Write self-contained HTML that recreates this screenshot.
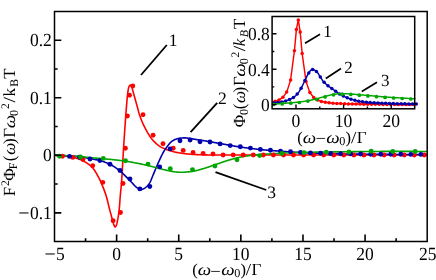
<!DOCTYPE html>
<html><head><meta charset="utf-8"><title>Spectra</title>
<style>html,body{margin:0;padding:0;background:#fff;}svg{display:block;}body{font-family:"Liberation Serif",serif;}svg{will-change:transform;}text{text-rendering:geometricPrecision;}</style></head>
<body>
<svg width="436" height="280" viewBox="0 0 436 280" font-family="'Liberation Serif', serif" fill="#000">
<rect x="0" y="0" width="436" height="280" fill="#fff"/>
<path d="M55.00,155.30 L55.50,155.33 L56.00,155.37 L56.50,155.40 L57.00,155.44 L57.50,155.47 L58.00,155.51 L58.50,155.55 L59.00,155.59 L59.50,155.63 L60.00,155.68 L60.50,155.72 L61.00,155.76 L61.50,155.81 L62.00,155.85 L62.50,155.90 L63.00,155.95 L63.50,156.00 L64.00,156.04 L64.50,156.10 L65.00,156.15 L65.50,156.20 L66.00,156.26 L66.50,156.31 L67.00,156.37 L67.50,156.44 L68.00,156.50 L68.50,156.57 L69.00,156.63 L69.50,156.70 L70.00,156.78 L70.50,156.85 L71.00,156.93 L71.50,157.02 L72.00,157.11 L72.50,157.20 L73.00,157.30 L73.50,157.41 L74.00,157.52 L74.50,157.65 L75.00,157.78 L75.50,157.92 L76.00,158.07 L76.50,158.22 L77.00,158.38 L77.50,158.54 L78.00,158.70 L78.50,158.87 L79.00,159.04 L79.50,159.23 L80.00,159.42 L80.50,159.62 L81.00,159.82 L81.50,160.04 L82.00,160.27 L82.50,160.50 L83.00,160.75 L83.50,161.01 L84.00,161.29 L84.50,161.58 L85.00,161.89 L85.50,162.20 L86.00,162.52 L86.50,162.84 L87.00,163.17 L87.50,163.50 L88.00,163.83 L88.50,164.17 L89.00,164.52 L89.50,164.90 L90.00,165.30 L90.50,165.74 L91.00,166.21 L91.50,166.71 L92.00,167.24 L92.50,167.78 L93.00,168.34 L93.50,168.92 L94.00,169.56 L94.50,170.27 L95.00,171.02 L95.50,171.81 L96.00,172.64 L96.50,173.50 L97.00,174.39 L97.50,175.30 L98.00,176.23 L98.50,177.18 L99.00,178.15 L99.50,179.16 L100.00,180.20 L100.50,181.28 L101.00,182.39 L101.50,183.53 L102.00,184.71 L102.50,185.90 L103.00,187.11 L103.50,188.36 L104.00,189.65 L104.50,190.99 L105.00,192.38 L105.50,193.84 L106.00,195.37 L106.50,197.00 L107.00,198.82 L107.50,200.78 L108.00,202.83 L108.50,204.91 L109.00,206.98 L109.50,208.98 L110.00,210.88 L110.50,212.76 L111.00,214.61 L111.50,216.45 L112.00,218.26 L112.50,220.04 L113.00,221.87 L113.50,223.76 L114.00,225.20 L114.50,226.23 L115.00,226.92 L115.50,226.84 L116.00,226.06 L116.50,224.95 L117.00,223.13 L117.50,220.75 L118.00,218.16 L118.50,215.13 L119.00,211.45 L119.50,206.37 L120.00,199.25 L120.50,193.30 L121.00,188.43 L121.50,182.70 L122.00,175.10 L122.50,166.67 L123.00,158.10 L123.50,149.32 L124.00,141.29 L124.50,133.80 L125.00,126.56 L125.50,119.41 L126.00,112.57 L126.50,106.18 L127.00,100.03 L127.50,95.00 L128.00,91.08 L128.50,88.18 L129.00,86.62 L129.50,85.70 L130.00,85.18 L130.50,85.02 L131.00,85.59 L131.50,86.49 L132.00,87.73 L132.50,89.37 L133.00,91.24 L133.50,93.17 L134.00,95.00 L134.50,96.74 L135.00,98.52 L135.50,100.31 L136.00,102.12 L136.50,103.92 L137.00,105.73 L137.50,107.60 L138.00,109.50 L138.50,111.37 L139.00,113.16 L139.50,114.80 L140.00,116.27 L140.50,117.67 L141.00,118.99 L141.50,120.26 L142.00,121.46 L142.50,122.63 L143.00,123.75 L143.50,124.84 L144.00,125.88 L144.50,126.89 L145.00,127.87 L145.50,128.82 L146.00,129.74 L146.50,130.64 L147.00,131.53 L147.50,132.41 L148.00,133.28 L148.50,134.13 L149.00,134.95 L149.50,135.75 L150.00,136.51 L150.50,137.22 L151.00,137.90 L151.50,138.55 L152.00,139.16 L152.50,139.75 L153.00,140.32 L153.50,140.87 L154.00,141.39 L154.50,141.91 L155.00,142.40 L155.50,142.89 L156.00,143.35 L156.50,143.80 L157.00,144.23 L157.50,144.64 L158.00,145.03 L158.50,145.42 L159.00,145.79 L159.50,146.15 L160.00,146.48 L160.50,146.80 L161.00,147.09 L161.50,147.36 L162.00,147.61 L162.50,147.85 L163.00,148.09 L163.50,148.32 L164.00,148.53 L164.50,148.75 L165.00,148.95 L165.50,149.15 L166.00,149.34 L166.50,149.52 L167.00,149.70 L167.50,149.88 L168.00,150.05 L168.50,150.22 L169.00,150.38 L169.50,150.54 L170.00,150.70 L170.50,150.86 L171.00,151.01 L171.50,151.16 L172.00,151.31 L172.50,151.45 L173.00,151.59 L173.50,151.72 L174.00,151.84 L174.50,151.96 L175.00,152.07 L175.50,152.18 L176.00,152.28 L176.50,152.38 L177.00,152.47 L177.50,152.57 L178.00,152.66 L178.50,152.75 L179.00,152.83 L179.50,152.92 L180.00,153.00 L180.50,153.08 L181.00,153.15 L181.50,153.23 L182.00,153.30 L182.50,153.37 L183.00,153.43 L183.50,153.50 L184.00,153.56 L184.50,153.62 L185.00,153.67 L185.50,153.73 L186.00,153.78 L186.50,153.83 L187.00,153.89 L187.50,153.94 L188.00,153.99 L188.50,154.04 L189.00,154.09 L189.50,154.13 L190.00,154.18 L190.50,154.22 L191.00,154.27 L191.50,154.31 L192.00,154.35 L192.50,154.39 L193.00,154.42 L193.50,154.46 L194.00,154.49 L194.50,154.52 L195.00,154.54 L195.50,154.57 L196.00,154.59 L196.50,154.61 L197.00,154.63 L197.50,154.64 L198.00,154.66 L198.50,154.68 L199.00,154.70 L199.50,154.71 L200.00,154.73 L200.50,154.75 L201.00,154.76 L201.50,154.78 L202.00,154.79 L202.50,154.81 L203.00,154.82 L203.50,154.84 L204.00,154.85 L204.50,154.87 L205.00,154.88 L205.50,154.89 L206.00,154.90 L206.50,154.91 L207.00,154.92 L207.50,154.93 L208.00,154.94 L208.50,154.95 L209.00,154.96 L209.50,154.97 L210.00,154.97 L210.50,154.98 L211.00,154.99 L211.50,154.99 L212.00,154.99 L212.50,155.00 L213.00,155.00 L213.50,155.00 L214.00,155.00 L214.50,155.00 L215.00,155.00 L215.50,155.00 L216.00,155.00 L216.50,155.00 L217.00,155.00 L217.50,155.00 L218.00,155.00 L218.50,155.00 L219.00,155.00 L219.50,155.00 L220.00,155.00 L220.50,155.00 L221.00,155.00 L221.50,155.00 L222.00,155.00 L222.50,155.00 L223.00,155.00 L223.50,155.00 L224.00,155.00 L224.50,155.00 L225.00,155.00 L225.50,155.00 L226.00,155.00 L226.50,155.00 L227.00,155.00 L227.50,155.00 L228.00,155.00 L228.50,155.00 L229.00,155.00 L229.50,155.00 L230.00,155.00 L230.50,155.00 L231.00,155.00 L231.50,155.00 L232.00,155.00 L232.50,155.00 L233.00,155.00 L233.50,155.00 L234.00,155.00 L234.50,155.00 L235.00,155.00 L235.50,155.00 L236.00,155.00 L236.50,155.00 L237.00,155.00 L237.50,155.00 L238.00,155.00 L238.50,155.00 L239.00,155.00 L239.50,155.00 L240.00,155.00 L240.50,155.00 L241.00,155.00 L241.50,155.00 L242.00,155.00 L242.50,155.00 L243.00,155.00 L243.50,155.00 L244.00,155.00 L244.50,155.00 L245.00,155.00 L245.50,155.00 L246.00,155.00 L246.50,155.00 L247.00,155.00 L247.50,155.00 L248.00,155.00 L248.50,155.00 L249.00,155.00 L249.50,155.00 L250.00,155.00 L250.50,155.00 L251.00,155.00 L251.50,155.00 L252.00,155.00 L252.50,155.00 L253.00,155.00 L253.50,155.00 L254.00,155.00 L254.50,155.00 L255.00,155.00 L255.50,155.00 L256.00,155.00 L256.50,155.00 L257.00,155.00 L257.50,155.00 L258.00,155.00 L258.50,155.00 L259.00,155.00 L259.50,155.00 L260.00,155.00 L260.50,155.00 L261.00,155.00 L261.50,155.00 L262.00,155.00 L262.50,155.00 L263.00,155.00 L263.50,155.00 L264.00,155.00 L264.50,155.00 L265.00,155.00 L265.50,155.00 L266.00,155.00 L266.50,155.00 L267.00,155.00 L267.50,155.00 L268.00,155.00 L268.50,155.00 L269.00,155.00 L269.50,155.00 L270.00,155.00 L270.50,155.00 L271.00,155.00 L271.50,155.00 L272.00,155.00 L272.50,155.00 L273.00,155.00 L273.50,155.00 L274.00,155.00 L274.50,155.00 L275.00,155.00 L275.50,155.00 L276.00,155.00 L276.50,155.00 L277.00,155.00 L277.50,155.00 L278.00,155.00 L278.50,155.00 L279.00,155.00 L279.50,155.00 L280.00,155.00 L280.50,155.00 L281.00,155.00 L281.50,155.00 L282.00,155.00 L282.50,155.00 L283.00,155.00 L283.50,155.00 L284.00,155.00 L284.50,155.00 L285.00,155.00 L285.50,155.00 L286.00,155.00 L286.50,155.00 L287.00,155.00 L287.50,155.00 L288.00,155.00 L288.50,155.00 L289.00,155.00 L289.50,155.00 L290.00,155.00 L290.50,155.00 L291.00,155.00 L291.50,155.00 L292.00,155.00 L292.50,155.00 L293.00,155.00 L293.50,155.00 L294.00,155.00 L294.50,155.00 L295.00,155.00 L295.50,155.00 L296.00,155.00 L296.50,155.00 L297.00,155.00 L297.50,155.00 L298.00,155.00 L298.50,155.00 L299.00,155.00 L299.50,155.00 L300.00,155.00 L300.50,155.00 L301.00,155.00 L301.50,155.00 L302.00,155.00 L302.50,155.00 L303.00,155.00 L303.50,155.00 L304.00,155.00 L304.50,155.00 L305.00,155.00 L305.50,155.00 L306.00,155.00 L306.50,155.00 L307.00,155.00 L307.50,155.00 L308.00,155.00 L308.50,155.00 L309.00,155.00 L309.50,155.00 L310.00,155.00 L310.50,155.00 L311.00,155.00 L311.50,155.00 L312.00,155.00 L312.50,155.00 L313.00,155.00 L313.50,155.00 L314.00,155.00 L314.50,155.00 L315.00,155.00 L315.50,155.00 L316.00,155.00 L316.50,155.00 L317.00,155.00 L317.50,155.00 L318.00,155.00 L318.50,155.00 L319.00,155.00 L319.50,155.00 L320.00,155.00 L320.50,155.00 L321.00,155.00 L321.50,155.00 L322.00,155.00 L322.50,155.00 L323.00,155.00 L323.50,155.00 L324.00,155.00 L324.50,155.00 L325.00,155.00 L325.50,155.00 L326.00,155.00 L326.50,155.00 L327.00,155.00 L327.50,155.00 L328.00,155.00 L328.50,155.00 L329.00,155.00 L329.50,155.00 L330.00,155.00 L330.50,155.00 L331.00,155.00 L331.50,155.00 L332.00,155.00 L332.50,155.00 L333.00,155.00 L333.50,155.00 L334.00,155.00 L334.50,155.00 L335.00,155.00 L335.50,155.00 L336.00,155.00 L336.50,155.00 L337.00,155.00 L337.50,155.00 L338.00,155.00 L338.50,155.00 L339.00,155.00 L339.50,155.00 L340.00,155.00 L340.50,155.00 L341.00,155.00 L341.50,155.00 L342.00,155.00 L342.50,155.00 L343.00,155.00 L343.50,155.00 L344.00,155.00 L344.50,155.00 L345.00,155.00 L345.50,155.00 L346.00,155.00 L346.50,155.00 L347.00,155.00 L347.50,155.00 L348.00,155.00 L348.50,155.00 L349.00,155.00 L349.50,155.00 L350.00,155.00 L350.50,155.00 L351.00,155.00 L351.50,155.00 L352.00,155.00 L352.50,155.00 L353.00,155.00 L353.50,155.00 L354.00,155.00 L354.50,155.00 L355.00,155.00 L355.50,155.00 L356.00,155.00 L356.50,155.00 L357.00,155.00 L357.50,155.00 L358.00,155.00 L358.50,155.00 L359.00,155.00 L359.50,155.00 L360.00,155.00 L360.50,155.00 L361.00,155.00 L361.50,155.00 L362.00,155.00 L362.50,155.00 L363.00,155.00 L363.50,155.00 L364.00,155.00 L364.50,155.00 L365.00,155.00 L365.50,155.00 L366.00,155.00 L366.50,155.00 L367.00,155.00 L367.50,155.00 L368.00,155.00 L368.50,155.00 L369.00,155.00 L369.50,155.00 L370.00,155.00 L370.50,155.00 L371.00,155.00 L371.50,155.00 L372.00,155.00 L372.50,155.00 L373.00,155.00 L373.50,155.00 L374.00,155.00 L374.50,155.00 L375.00,155.00 L375.50,155.00 L376.00,155.00 L376.50,155.00 L377.00,155.00 L377.50,155.00 L378.00,155.00 L378.50,155.00 L379.00,155.00 L379.50,155.00 L380.00,155.00 L380.50,155.00 L381.00,155.00 L381.50,155.00 L382.00,155.00 L382.50,155.00 L383.00,155.00 L383.50,155.00 L384.00,155.00 L384.50,155.00 L385.00,155.00 L385.50,155.00 L386.00,155.00 L386.50,155.00 L387.00,155.00 L387.50,155.00 L388.00,155.00 L388.50,155.00 L389.00,155.00 L389.50,155.00 L390.00,155.00 L390.50,155.00 L391.00,155.00 L391.50,155.00 L392.00,155.00 L392.50,155.00 L393.00,155.00 L393.50,155.00 L394.00,155.00 L394.50,155.00 L395.00,155.00 L395.50,155.00 L396.00,155.00 L396.50,155.00 L397.00,155.00 L397.50,155.00 L398.00,155.00 L398.50,155.00 L399.00,155.00 L399.50,155.00 L400.00,155.00 L400.50,155.00 L401.00,155.00 L401.50,155.00 L402.00,155.00 L402.50,155.00 L403.00,155.00 L403.50,155.00 L404.00,155.00 L404.50,155.00 L405.00,155.00 L405.50,155.00 L406.00,155.00 L406.50,155.00 L407.00,155.00 L407.50,155.00 L408.00,155.00 L408.50,155.00 L409.00,155.00 L409.50,155.00 L410.00,155.00 L410.50,155.00 L411.00,155.00 L411.50,155.00 L412.00,155.00 L412.50,155.00 L413.00,155.00 L413.50,155.00 L414.00,155.00 L414.50,155.00 L415.00,155.00 L415.50,155.00 L416.00,155.00 L416.50,155.00 L417.00,155.00 L417.50,155.00 L418.00,155.00 L418.50,155.00 L419.00,155.00 L419.50,155.00 L420.00,155.00 L420.50,155.00 L421.00,155.00 L421.50,155.00 L422.00,155.00 L422.50,155.00 L423.00,155.00 L423.50,155.00 L424.00,155.00 L424.50,155.00 L425.00,155.00 L425.50,155.00 L426.00,155.00 L426.50,155.00 L427.00,155.00 L427.20,155.00" fill="none" stroke="#ff0000" stroke-width="1.6" stroke-linejoin="round"/>
<path d="M55.00,155.30 L55.50,155.31 L56.00,155.32 L56.50,155.33 L57.00,155.34 L57.50,155.35 L58.00,155.37 L58.50,155.38 L59.00,155.40 L59.50,155.42 L60.00,155.43 L60.50,155.45 L61.00,155.47 L61.50,155.49 L62.00,155.51 L62.50,155.54 L63.00,155.56 L63.50,155.58 L64.00,155.61 L64.50,155.63 L65.00,155.66 L65.50,155.68 L66.00,155.71 L66.50,155.73 L67.00,155.76 L67.50,155.79 L68.00,155.82 L68.50,155.84 L69.00,155.87 L69.50,155.90 L70.00,155.93 L70.50,155.96 L71.00,155.99 L71.50,156.02 L72.00,156.06 L72.50,156.09 L73.00,156.13 L73.50,156.17 L74.00,156.21 L74.50,156.25 L75.00,156.29 L75.50,156.34 L76.00,156.38 L76.50,156.43 L77.00,156.48 L77.50,156.53 L78.00,156.58 L78.50,156.63 L79.00,156.69 L79.50,156.74 L80.00,156.80 L80.50,156.86 L81.00,156.93 L81.50,157.00 L82.00,157.08 L82.50,157.16 L83.00,157.24 L83.50,157.33 L84.00,157.42 L84.50,157.51 L85.00,157.61 L85.50,157.71 L86.00,157.81 L86.50,157.91 L87.00,158.01 L87.50,158.11 L88.00,158.21 L88.50,158.31 L89.00,158.41 L89.50,158.50 L90.00,158.60 L90.50,158.69 L91.00,158.79 L91.50,158.88 L92.00,158.97 L92.50,159.06 L93.00,159.15 L93.50,159.24 L94.00,159.33 L94.50,159.42 L95.00,159.51 L95.50,159.60 L96.00,159.70 L96.50,159.80 L97.00,159.90 L97.50,160.01 L98.00,160.12 L98.50,160.23 L99.00,160.35 L99.50,160.47 L100.00,160.60 L100.50,160.73 L101.00,160.88 L101.50,161.02 L102.00,161.18 L102.50,161.34 L103.00,161.50 L103.50,161.68 L104.00,161.85 L104.50,162.04 L105.00,162.23 L105.50,162.42 L106.00,162.62 L106.50,162.83 L107.00,163.04 L107.50,163.26 L108.00,163.48 L108.50,163.70 L109.00,163.93 L109.50,164.16 L110.00,164.40 L110.50,164.64 L111.00,164.90 L111.50,165.17 L112.00,165.44 L112.50,165.73 L113.00,166.02 L113.50,166.32 L114.00,166.63 L114.50,166.95 L115.00,167.28 L115.50,167.61 L116.00,167.95 L116.50,168.30 L117.00,168.66 L117.50,169.02 L118.00,169.39 L118.50,169.76 L119.00,170.14 L119.50,170.52 L120.00,170.92 L120.50,171.33 L121.00,171.77 L121.50,172.22 L122.00,172.68 L122.50,173.16 L123.00,173.64 L123.50,174.13 L124.00,174.62 L124.50,175.11 L125.00,175.60 L125.50,176.09 L126.00,176.59 L126.50,177.10 L127.00,177.61 L127.50,178.12 L128.00,178.64 L128.50,179.17 L129.00,179.69 L129.50,180.22 L130.00,180.74 L130.50,181.26 L131.00,181.78 L131.50,182.29 L132.00,182.80 L132.50,183.32 L133.00,183.85 L133.50,184.39 L134.00,184.93 L134.50,185.46 L135.00,185.97 L135.50,186.46 L136.00,186.92 L136.50,187.34 L137.00,187.73 L137.50,188.10 L138.00,188.45 L138.50,188.75 L139.00,189.00 L139.50,189.23 L140.00,189.44 L140.50,189.57 L141.00,189.59 L141.50,189.51 L142.00,189.37 L142.50,189.19 L143.00,189.00 L143.50,188.79 L144.00,188.54 L144.50,188.25 L145.00,187.93 L145.50,187.57 L146.00,187.19 L146.50,186.75 L147.00,186.28 L147.50,185.75 L148.00,185.18 L148.50,184.56 L149.00,183.88 L149.50,183.16 L150.00,182.37 L150.50,181.38 L151.00,180.23 L151.50,178.99 L152.00,177.72 L152.50,176.50 L153.00,175.31 L153.50,174.09 L154.00,172.86 L154.50,171.63 L155.00,170.41 L155.50,169.20 L156.00,168.02 L156.50,166.85 L157.00,165.70 L157.50,164.56 L158.00,163.43 L158.50,162.31 L159.00,161.22 L159.50,160.13 L160.00,159.03 L160.50,157.93 L161.00,156.84 L161.50,155.78 L162.00,154.75 L162.50,153.77 L163.00,152.84 L163.50,151.97 L164.00,151.15 L164.50,150.36 L165.00,149.60 L165.50,148.87 L166.00,148.17 L166.50,147.48 L167.00,146.82 L167.50,146.17 L168.00,145.52 L168.50,144.87 L169.00,144.23 L169.50,143.62 L170.00,143.03 L170.50,142.50 L171.00,142.01 L171.50,141.60 L172.00,141.23 L172.50,140.89 L173.00,140.57 L173.50,140.27 L174.00,139.99 L174.50,139.74 L175.00,139.53 L175.50,139.33 L176.00,139.16 L176.50,139.00 L177.00,138.84 L177.50,138.68 L178.00,138.54 L178.50,138.41 L179.00,138.29 L179.50,138.19 L180.00,138.11 L180.50,138.04 L181.00,138.00 L181.50,137.98 L182.00,137.96 L182.50,137.95 L183.00,137.93 L183.50,137.92 L184.00,137.91 L184.50,137.90 L185.00,137.90 L185.50,137.91 L186.00,137.95 L186.50,138.01 L187.00,138.07 L187.50,138.14 L188.00,138.20 L188.50,138.26 L189.00,138.33 L189.50,138.40 L190.00,138.47 L190.50,138.54 L191.00,138.62 L191.50,138.70 L192.00,138.78 L192.50,138.87 L193.00,138.95 L193.50,139.04 L194.00,139.12 L194.50,139.21 L195.00,139.29 L195.50,139.37 L196.00,139.45 L196.50,139.53 L197.00,139.61 L197.50,139.69 L198.00,139.77 L198.50,139.84 L199.00,139.92 L199.50,140.00 L200.00,140.08 L200.50,140.16 L201.00,140.23 L201.50,140.31 L202.00,140.39 L202.50,140.47 L203.00,140.55 L203.50,140.63 L204.00,140.72 L204.50,140.80 L205.00,140.88 L205.50,140.97 L206.00,141.06 L206.50,141.14 L207.00,141.23 L207.50,141.32 L208.00,141.41 L208.50,141.50 L209.00,141.59 L209.50,141.68 L210.00,141.77 L210.50,141.86 L211.00,141.95 L211.50,142.04 L212.00,142.13 L212.50,142.22 L213.00,142.31 L213.50,142.40 L214.00,142.48 L214.50,142.57 L215.00,142.65 L215.50,142.74 L216.00,142.82 L216.50,142.91 L217.00,142.99 L217.50,143.07 L218.00,143.16 L218.50,143.24 L219.00,143.33 L219.50,143.41 L220.00,143.50 L220.50,143.59 L221.00,143.68 L221.50,143.76 L222.00,143.85 L222.50,143.94 L223.00,144.03 L223.50,144.13 L224.00,144.22 L224.50,144.31 L225.00,144.40 L225.50,144.49 L226.00,144.58 L226.50,144.67 L227.00,144.76 L227.50,144.85 L228.00,144.94 L228.50,145.03 L229.00,145.12 L229.50,145.21 L230.00,145.30 L230.50,145.39 L231.00,145.48 L231.50,145.56 L232.00,145.65 L232.50,145.74 L233.00,145.83 L233.50,145.92 L234.00,146.01 L234.50,146.10 L235.00,146.18 L235.50,146.27 L236.00,146.36 L236.50,146.44 L237.00,146.53 L237.50,146.61 L238.00,146.69 L238.50,146.77 L239.00,146.85 L239.50,146.93 L240.00,147.00 L240.50,147.07 L241.00,147.14 L241.50,147.21 L242.00,147.28 L242.50,147.35 L243.00,147.42 L243.50,147.48 L244.00,147.55 L244.50,147.61 L245.00,147.68 L245.50,147.74 L246.00,147.80 L246.50,147.87 L247.00,147.93 L247.50,147.99 L248.00,148.05 L248.50,148.11 L249.00,148.18 L249.50,148.24 L250.00,148.30 L250.50,148.36 L251.00,148.43 L251.50,148.49 L252.00,148.55 L252.50,148.62 L253.00,148.68 L253.50,148.74 L254.00,148.80 L254.50,148.87 L255.00,148.93 L255.50,148.99 L256.00,149.05 L256.50,149.11 L257.00,149.17 L257.50,149.23 L258.00,149.28 L258.50,149.34 L259.00,149.40 L259.50,149.45 L260.00,149.50 L260.50,149.55 L261.00,149.60 L261.50,149.65 L262.00,149.70 L262.50,149.75 L263.00,149.79 L263.50,149.84 L264.00,149.89 L264.50,149.93 L265.00,149.98 L265.50,150.02 L266.00,150.07 L266.50,150.11 L267.00,150.15 L267.50,150.20 L268.00,150.24 L268.50,150.28 L269.00,150.32 L269.50,150.36 L270.00,150.40 L270.50,150.45 L271.00,150.49 L271.50,150.53 L272.00,150.57 L272.50,150.61 L273.00,150.64 L273.50,150.68 L274.00,150.72 L274.50,150.76 L275.00,150.80 L275.50,150.84 L276.00,150.88 L276.50,150.92 L277.00,150.95 L277.50,150.99 L278.00,151.03 L278.50,151.07 L279.00,151.11 L279.50,151.14 L280.00,151.18 L280.50,151.22 L281.00,151.26 L281.50,151.30 L282.00,151.33 L282.50,151.37 L283.00,151.41 L283.50,151.44 L284.00,151.48 L284.50,151.52 L285.00,151.55 L285.50,151.59 L286.00,151.63 L286.50,151.66 L287.00,151.70 L287.50,151.73 L288.00,151.77 L288.50,151.80 L289.00,151.84 L289.50,151.87 L290.00,151.91 L290.50,151.94 L291.00,151.97 L291.50,152.00 L292.00,152.04 L292.50,152.07 L293.00,152.10 L293.50,152.13 L294.00,152.16 L294.50,152.19 L295.00,152.22 L295.50,152.25 L296.00,152.28 L296.50,152.31 L297.00,152.34 L297.50,152.37 L298.00,152.40 L298.50,152.42 L299.00,152.45 L299.50,152.47 L300.00,152.50 L300.50,152.53 L301.00,152.55 L301.50,152.57 L302.00,152.60 L302.50,152.62 L303.00,152.65 L303.50,152.67 L304.00,152.70 L304.50,152.72 L305.00,152.74 L305.50,152.77 L306.00,152.79 L306.50,152.81 L307.00,152.84 L307.50,152.86 L308.00,152.88 L308.50,152.90 L309.00,152.93 L309.50,152.95 L310.00,152.97 L310.50,152.99 L311.00,153.01 L311.50,153.03 L312.00,153.05 L312.50,153.07 L313.00,153.09 L313.50,153.11 L314.00,153.13 L314.50,153.15 L315.00,153.17 L315.50,153.19 L316.00,153.21 L316.50,153.23 L317.00,153.25 L317.50,153.27 L318.00,153.28 L318.50,153.30 L319.00,153.32 L319.50,153.33 L320.00,153.35 L320.50,153.37 L321.00,153.38 L321.50,153.40 L322.00,153.41 L322.50,153.43 L323.00,153.44 L323.50,153.46 L324.00,153.47 L324.50,153.49 L325.00,153.50 L325.50,153.51 L326.00,153.53 L326.50,153.54 L327.00,153.55 L327.50,153.56 L328.00,153.58 L328.50,153.59 L329.00,153.60 L329.50,153.61 L330.00,153.63 L330.50,153.64 L331.00,153.65 L331.50,153.66 L332.00,153.67 L332.50,153.68 L333.00,153.70 L333.50,153.71 L334.00,153.72 L334.50,153.73 L335.00,153.74 L335.50,153.75 L336.00,153.76 L336.50,153.77 L337.00,153.78 L337.50,153.79 L338.00,153.80 L338.50,153.81 L339.00,153.82 L339.50,153.83 L340.00,153.84 L340.50,153.85 L341.00,153.86 L341.50,153.87 L342.00,153.87 L342.50,153.88 L343.00,153.89 L343.50,153.90 L344.00,153.91 L344.50,153.92 L345.00,153.93 L345.50,153.93 L346.00,153.94 L346.50,153.95 L347.00,153.96 L347.50,153.96 L348.00,153.97 L348.50,153.98 L349.00,153.99 L349.50,153.99 L350.00,154.00 L350.50,154.01 L351.00,154.01 L351.50,154.02 L352.00,154.03 L352.50,154.03 L353.00,154.04 L353.50,154.05 L354.00,154.05 L354.50,154.06 L355.00,154.07 L355.50,154.07 L356.00,154.08 L356.50,154.09 L357.00,154.09 L357.50,154.10 L358.00,154.11 L358.50,154.11 L359.00,154.12 L359.50,154.13 L360.00,154.13 L360.50,154.14 L361.00,154.14 L361.50,154.15 L362.00,154.16 L362.50,154.16 L363.00,154.17 L363.50,154.17 L364.00,154.18 L364.50,154.19 L365.00,154.19 L365.50,154.20 L366.00,154.20 L366.50,154.21 L367.00,154.21 L367.50,154.22 L368.00,154.23 L368.50,154.23 L369.00,154.24 L369.50,154.24 L370.00,154.25 L370.50,154.25 L371.00,154.26 L371.50,154.26 L372.00,154.27 L372.50,154.27 L373.00,154.28 L373.50,154.28 L374.00,154.29 L374.50,154.29 L375.00,154.30 L375.50,154.30 L376.00,154.31 L376.50,154.31 L377.00,154.31 L377.50,154.32 L378.00,154.32 L378.50,154.33 L379.00,154.33 L379.50,154.34 L380.00,154.34 L380.50,154.34 L381.00,154.35 L381.50,154.35 L382.00,154.35 L382.50,154.36 L383.00,154.36 L383.50,154.36 L384.00,154.37 L384.50,154.37 L385.00,154.37 L385.50,154.38 L386.00,154.38 L386.50,154.38 L387.00,154.39 L387.50,154.39 L388.00,154.39 L388.50,154.39 L389.00,154.40 L389.50,154.40 L390.00,154.40 L390.50,154.40 L391.00,154.40 L391.50,154.41 L392.00,154.41 L392.50,154.41 L393.00,154.41 L393.50,154.41 L394.00,154.42 L394.50,154.42 L395.00,154.42 L395.50,154.42 L396.00,154.42 L396.50,154.43 L397.00,154.43 L397.50,154.43 L398.00,154.43 L398.50,154.43 L399.00,154.44 L399.50,154.44 L400.00,154.44 L400.50,154.44 L401.00,154.44 L401.50,154.45 L402.00,154.45 L402.50,154.45 L403.00,154.45 L403.50,154.45 L404.00,154.45 L404.50,154.46 L405.00,154.46 L405.50,154.46 L406.00,154.46 L406.50,154.46 L407.00,154.46 L407.50,154.47 L408.00,154.47 L408.50,154.47 L409.00,154.47 L409.50,154.47 L410.00,154.47 L410.50,154.48 L411.00,154.48 L411.50,154.48 L412.00,154.48 L412.50,154.48 L413.00,154.48 L413.50,154.48 L414.00,154.48 L414.50,154.49 L415.00,154.49 L415.50,154.49 L416.00,154.49 L416.50,154.49 L417.00,154.49 L417.50,154.49 L418.00,154.49 L418.50,154.49 L419.00,154.49 L419.50,154.49 L420.00,154.49 L420.50,154.50 L421.00,154.50 L421.50,154.50 L422.00,154.50 L422.50,154.50 L423.00,154.50 L423.50,154.50 L424.00,154.50 L424.50,154.50 L425.00,154.50 L425.50,154.50 L426.00,154.50 L426.50,154.50 L427.00,154.50 L427.20,154.50" fill="none" stroke="#0000aa" stroke-width="1.6" stroke-linejoin="round"/>
<path d="M55.00,155.30 L55.50,155.31 L56.00,155.32 L56.50,155.33 L57.00,155.34 L57.50,155.36 L58.00,155.37 L58.50,155.38 L59.00,155.40 L59.50,155.42 L60.00,155.43 L60.50,155.45 L61.00,155.47 L61.50,155.49 L62.00,155.51 L62.50,155.53 L63.00,155.55 L63.50,155.58 L64.00,155.60 L64.50,155.62 L65.00,155.65 L65.50,155.67 L66.00,155.70 L66.50,155.73 L67.00,155.75 L67.50,155.78 L68.00,155.81 L68.50,155.84 L69.00,155.87 L69.50,155.90 L70.00,155.93 L70.50,155.96 L71.00,155.99 L71.50,156.02 L72.00,156.05 L72.50,156.08 L73.00,156.12 L73.50,156.15 L74.00,156.18 L74.50,156.22 L75.00,156.25 L75.50,156.28 L76.00,156.32 L76.50,156.35 L77.00,156.39 L77.50,156.42 L78.00,156.46 L78.50,156.49 L79.00,156.53 L79.50,156.56 L80.00,156.60 L80.50,156.64 L81.00,156.68 L81.50,156.72 L82.00,156.77 L82.50,156.81 L83.00,156.86 L83.50,156.91 L84.00,156.97 L84.50,157.02 L85.00,157.07 L85.50,157.13 L86.00,157.18 L86.50,157.24 L87.00,157.29 L87.50,157.35 L88.00,157.40 L88.50,157.45 L89.00,157.50 L89.50,157.55 L90.00,157.60 L90.50,157.65 L91.00,157.69 L91.50,157.73 L92.00,157.78 L92.50,157.82 L93.00,157.86 L93.50,157.90 L94.00,157.94 L94.50,157.99 L95.00,158.03 L95.50,158.07 L96.00,158.11 L96.50,158.15 L97.00,158.19 L97.50,158.23 L98.00,158.27 L98.50,158.31 L99.00,158.35 L99.50,158.39 L100.00,158.43 L100.50,158.48 L101.00,158.52 L101.50,158.56 L102.00,158.61 L102.50,158.65 L103.00,158.70 L103.50,158.75 L104.00,158.79 L104.50,158.84 L105.00,158.89 L105.50,158.94 L106.00,158.98 L106.50,159.03 L107.00,159.08 L107.50,159.13 L108.00,159.18 L108.50,159.22 L109.00,159.27 L109.50,159.32 L110.00,159.37 L110.50,159.42 L111.00,159.47 L111.50,159.52 L112.00,159.57 L112.50,159.62 L113.00,159.68 L113.50,159.73 L114.00,159.78 L114.50,159.83 L115.00,159.89 L115.50,159.94 L116.00,160.00 L116.50,160.05 L117.00,160.11 L117.50,160.16 L118.00,160.22 L118.50,160.28 L119.00,160.34 L119.50,160.40 L120.00,160.46 L120.50,160.52 L121.00,160.58 L121.50,160.64 L122.00,160.70 L122.50,160.77 L123.00,160.83 L123.50,160.90 L124.00,160.96 L124.50,161.03 L125.00,161.10 L125.50,161.17 L126.00,161.24 L126.50,161.32 L127.00,161.39 L127.50,161.47 L128.00,161.55 L128.50,161.63 L129.00,161.72 L129.50,161.80 L130.00,161.89 L130.50,161.98 L131.00,162.07 L131.50,162.16 L132.00,162.25 L132.50,162.34 L133.00,162.43 L133.50,162.53 L134.00,162.62 L134.50,162.72 L135.00,162.81 L135.50,162.91 L136.00,163.01 L136.50,163.10 L137.00,163.20 L137.50,163.30 L138.00,163.40 L138.50,163.50 L139.00,163.60 L139.50,163.70 L140.00,163.80 L140.50,163.90 L141.00,164.01 L141.50,164.11 L142.00,164.22 L142.50,164.33 L143.00,164.44 L143.50,164.55 L144.00,164.66 L144.50,164.77 L145.00,164.88 L145.50,164.99 L146.00,165.11 L146.50,165.22 L147.00,165.34 L147.50,165.45 L148.00,165.57 L148.50,165.69 L149.00,165.81 L149.50,165.93 L150.00,166.06 L150.50,166.18 L151.00,166.31 L151.50,166.44 L152.00,166.57 L152.50,166.70 L153.00,166.83 L153.50,166.96 L154.00,167.09 L154.50,167.22 L155.00,167.35 L155.50,167.49 L156.00,167.62 L156.50,167.75 L157.00,167.88 L157.50,168.01 L158.00,168.14 L158.50,168.27 L159.00,168.40 L159.50,168.53 L160.00,168.65 L160.50,168.78 L161.00,168.91 L161.50,169.03 L162.00,169.16 L162.50,169.29 L163.00,169.41 L163.50,169.54 L164.00,169.66 L164.50,169.78 L165.00,169.90 L165.50,170.02 L166.00,170.14 L166.50,170.25 L167.00,170.37 L167.50,170.49 L168.00,170.60 L168.50,170.71 L169.00,170.82 L169.50,170.92 L170.00,171.02 L170.50,171.12 L171.00,171.21 L171.50,171.31 L172.00,171.40 L172.50,171.50 L173.00,171.59 L173.50,171.68 L174.00,171.76 L174.50,171.83 L175.00,171.90 L175.50,171.95 L176.00,172.00 L176.50,172.04 L177.00,172.08 L177.50,172.12 L178.00,172.16 L178.50,172.19 L179.00,172.22 L179.50,172.25 L180.00,172.27 L180.50,172.29 L181.00,172.30 L181.50,172.30 L182.00,172.30 L182.50,172.28 L183.00,172.27 L183.50,172.24 L184.00,172.22 L184.50,172.18 L185.00,172.15 L185.50,172.11 L186.00,172.07 L186.50,172.04 L187.00,172.00 L187.50,171.96 L188.00,171.92 L188.50,171.88 L189.00,171.83 L189.50,171.78 L190.00,171.72 L190.50,171.67 L191.00,171.60 L191.50,171.54 L192.00,171.47 L192.50,171.40 L193.00,171.32 L193.50,171.24 L194.00,171.15 L194.50,171.05 L195.00,170.94 L195.50,170.83 L196.00,170.71 L196.50,170.59 L197.00,170.46 L197.50,170.33 L198.00,170.20 L198.50,170.06 L199.00,169.92 L199.50,169.78 L200.00,169.63 L200.50,169.48 L201.00,169.34 L201.50,169.19 L202.00,169.04 L202.50,168.89 L203.00,168.75 L203.50,168.60 L204.00,168.45 L204.50,168.30 L205.00,168.15 L205.50,167.99 L206.00,167.83 L206.50,167.66 L207.00,167.50 L207.50,167.33 L208.00,167.16 L208.50,166.98 L209.00,166.81 L209.50,166.63 L210.00,166.46 L210.50,166.28 L211.00,166.11 L211.50,165.93 L212.00,165.76 L212.50,165.58 L213.00,165.41 L213.50,165.24 L214.00,165.07 L214.50,164.90 L215.00,164.73 L215.50,164.57 L216.00,164.41 L216.50,164.24 L217.00,164.08 L217.50,163.92 L218.00,163.75 L218.50,163.58 L219.00,163.41 L219.50,163.24 L220.00,163.06 L220.50,162.88 L221.00,162.70 L221.50,162.52 L222.00,162.34 L222.50,162.16 L223.00,161.98 L223.50,161.80 L224.00,161.63 L224.50,161.46 L225.00,161.30 L225.50,161.14 L226.00,160.98 L226.50,160.83 L227.00,160.67 L227.50,160.52 L228.00,160.36 L228.50,160.21 L229.00,160.07 L229.50,159.92 L230.00,159.78 L230.50,159.64 L231.00,159.50 L231.50,159.36 L232.00,159.23 L232.50,159.10 L233.00,158.97 L233.50,158.84 L234.00,158.71 L234.50,158.58 L235.00,158.45 L235.50,158.32 L236.00,158.19 L236.50,158.07 L237.00,157.94 L237.50,157.81 L238.00,157.69 L238.50,157.56 L239.00,157.44 L239.50,157.32 L240.00,157.21 L240.50,157.09 L241.00,156.98 L241.50,156.87 L242.00,156.76 L242.50,156.66 L243.00,156.56 L243.50,156.46 L244.00,156.37 L244.50,156.28 L245.00,156.20 L245.50,156.12 L246.00,156.04 L246.50,155.97 L247.00,155.90 L247.50,155.84 L248.00,155.77 L248.50,155.71 L249.00,155.65 L249.50,155.59 L250.00,155.53 L250.50,155.47 L251.00,155.42 L251.50,155.37 L252.00,155.31 L252.50,155.26 L253.00,155.21 L253.50,155.16 L254.00,155.12 L254.50,155.07 L255.00,155.02 L255.50,154.98 L256.00,154.93 L256.50,154.89 L257.00,154.85 L257.50,154.81 L258.00,154.76 L258.50,154.72 L259.00,154.68 L259.50,154.64 L260.00,154.60 L260.50,154.56 L261.00,154.52 L261.50,154.48 L262.00,154.44 L262.50,154.40 L263.00,154.37 L263.50,154.33 L264.00,154.29 L264.50,154.25 L265.00,154.22 L265.50,154.18 L266.00,154.14 L266.50,154.11 L267.00,154.07 L267.50,154.04 L268.00,154.01 L268.50,153.97 L269.00,153.94 L269.50,153.91 L270.00,153.87 L270.50,153.84 L271.00,153.81 L271.50,153.78 L272.00,153.75 L272.50,153.71 L273.00,153.68 L273.50,153.65 L274.00,153.62 L274.50,153.60 L275.00,153.57 L275.50,153.54 L276.00,153.51 L276.50,153.48 L277.00,153.46 L277.50,153.43 L278.00,153.40 L278.50,153.38 L279.00,153.35 L279.50,153.32 L280.00,153.30 L280.50,153.28 L281.00,153.25 L281.50,153.23 L282.00,153.20 L282.50,153.18 L283.00,153.15 L283.50,153.13 L284.00,153.11 L284.50,153.08 L285.00,153.06 L285.50,153.04 L286.00,153.02 L286.50,152.99 L287.00,152.97 L287.50,152.95 L288.00,152.93 L288.50,152.91 L289.00,152.89 L289.50,152.86 L290.00,152.84 L290.50,152.82 L291.00,152.80 L291.50,152.78 L292.00,152.76 L292.50,152.75 L293.00,152.73 L293.50,152.71 L294.00,152.69 L294.50,152.67 L295.00,152.65 L295.50,152.64 L296.00,152.62 L296.50,152.60 L297.00,152.59 L297.50,152.57 L298.00,152.56 L298.50,152.54 L299.00,152.53 L299.50,152.51 L300.00,152.50 L300.50,152.49 L301.00,152.47 L301.50,152.46 L302.00,152.45 L302.50,152.43 L303.00,152.42 L303.50,152.41 L304.00,152.40 L304.50,152.39 L305.00,152.37 L305.50,152.36 L306.00,152.35 L306.50,152.34 L307.00,152.33 L307.50,152.32 L308.00,152.31 L308.50,152.29 L309.00,152.28 L309.50,152.27 L310.00,152.26 L310.50,152.25 L311.00,152.24 L311.50,152.23 L312.00,152.22 L312.50,152.21 L313.00,152.20 L313.50,152.19 L314.00,152.18 L314.50,152.17 L315.00,152.17 L315.50,152.16 L316.00,152.15 L316.50,152.14 L317.00,152.13 L317.50,152.12 L318.00,152.11 L318.50,152.10 L319.00,152.10 L319.50,152.09 L320.00,152.08 L320.50,152.07 L321.00,152.06 L321.50,152.05 L322.00,152.05 L322.50,152.04 L323.00,152.03 L323.50,152.02 L324.00,152.02 L324.50,152.01 L325.00,152.00 L325.50,151.99 L326.00,151.99 L326.50,151.98 L327.00,151.97 L327.50,151.96 L328.00,151.96 L328.50,151.95 L329.00,151.94 L329.50,151.94 L330.00,151.93 L330.50,151.92 L331.00,151.91 L331.50,151.91 L332.00,151.90 L332.50,151.89 L333.00,151.89 L333.50,151.88 L334.00,151.88 L334.50,151.87 L335.00,151.86 L335.50,151.86 L336.00,151.85 L336.50,151.84 L337.00,151.84 L337.50,151.83 L338.00,151.83 L338.50,151.82 L339.00,151.81 L339.50,151.81 L340.00,151.80 L340.50,151.80 L341.00,151.79 L341.50,151.79 L342.00,151.78 L342.50,151.78 L343.00,151.77 L343.50,151.76 L344.00,151.76 L344.50,151.75 L345.00,151.75 L345.50,151.74 L346.00,151.74 L346.50,151.73 L347.00,151.73 L347.50,151.72 L348.00,151.72 L348.50,151.71 L349.00,151.71 L349.50,151.70 L350.00,151.70 L350.50,151.70 L351.00,151.69 L351.50,151.69 L352.00,151.68 L352.50,151.68 L353.00,151.67 L353.50,151.67 L354.00,151.66 L354.50,151.66 L355.00,151.65 L355.50,151.65 L356.00,151.64 L356.50,151.64 L357.00,151.63 L357.50,151.63 L358.00,151.62 L358.50,151.62 L359.00,151.61 L359.50,151.61 L360.00,151.60 L360.50,151.60 L361.00,151.59 L361.50,151.59 L362.00,151.58 L362.50,151.57 L363.00,151.57 L363.50,151.56 L364.00,151.56 L364.50,151.55 L365.00,151.55 L365.50,151.55 L366.00,151.54 L366.50,151.54 L367.00,151.53 L367.50,151.53 L368.00,151.52 L368.50,151.52 L369.00,151.51 L369.50,151.51 L370.00,151.50 L370.50,151.50 L371.00,151.49 L371.50,151.49 L372.00,151.49 L372.50,151.48 L373.00,151.48 L373.50,151.47 L374.00,151.47 L374.50,151.47 L375.00,151.46 L375.50,151.46 L376.00,151.45 L376.50,151.45 L377.00,151.45 L377.50,151.44 L378.00,151.44 L378.50,151.44 L379.00,151.43 L379.50,151.43 L380.00,151.43 L380.50,151.43 L381.00,151.42 L381.50,151.42 L382.00,151.42 L382.50,151.42 L383.00,151.41 L383.50,151.41 L384.00,151.41 L384.50,151.41 L385.00,151.41 L385.50,151.41 L386.00,151.41 L386.50,151.40 L387.00,151.40 L387.50,151.40 L388.00,151.40 L388.50,151.40 L389.00,151.40 L389.50,151.40 L390.00,151.40 L390.50,151.40 L391.00,151.40 L391.50,151.40 L392.00,151.40 L392.50,151.40 L393.00,151.40 L393.50,151.40 L394.00,151.40 L394.50,151.40 L395.00,151.40 L395.50,151.40 L396.00,151.40 L396.50,151.40 L397.00,151.40 L397.50,151.40 L398.00,151.40 L398.50,151.40 L399.00,151.40 L399.50,151.40 L400.00,151.40 L400.50,151.40 L401.00,151.40 L401.50,151.40 L402.00,151.40 L402.50,151.41 L403.00,151.41 L403.50,151.41 L404.00,151.41 L404.50,151.41 L405.00,151.41 L405.50,151.41 L406.00,151.41 L406.50,151.41 L407.00,151.41 L407.50,151.41 L408.00,151.41 L408.50,151.41 L409.00,151.42 L409.50,151.42 L410.00,151.42 L410.50,151.42 L411.00,151.42 L411.50,151.42 L412.00,151.42 L412.50,151.42 L413.00,151.43 L413.50,151.43 L414.00,151.43 L414.50,151.43 L415.00,151.43 L415.50,151.43 L416.00,151.44 L416.50,151.44 L417.00,151.44 L417.50,151.44 L418.00,151.45 L418.50,151.45 L419.00,151.45 L419.50,151.45 L420.00,151.45 L420.50,151.46 L421.00,151.46 L421.50,151.46 L422.00,151.47 L422.50,151.47 L423.00,151.47 L423.50,151.47 L424.00,151.48 L424.50,151.48 L425.00,151.48 L425.50,151.49 L426.00,151.49 L426.50,151.49 L427.00,151.50 L427.20,151.50" fill="none" stroke="#00a500" stroke-width="1.6" stroke-linejoin="round"/>
<g fill="#ff0000"><circle cx="62.5" cy="156.2" r="2.45"/><circle cx="72.8" cy="157.4" r="2.45"/><circle cx="82.9" cy="159.6" r="2.45"/><circle cx="92.7" cy="165.8" r="2.45"/><circle cx="102.8" cy="182.4" r="2.45"/><circle cx="113.1" cy="220.7" r="2.45"/><circle cx="120.5" cy="212.5" r="2.45"/><circle cx="123.0" cy="183.5" r="2.45"/><circle cx="125.4" cy="148.2" r="2.45"/><circle cx="127.4" cy="116.0" r="2.45"/><circle cx="129.5" cy="95.2" r="2.45"/><circle cx="132.8" cy="86.0" r="2.45"/><circle cx="143.0" cy="114.7" r="2.45"/><circle cx="153.1" cy="135.2" r="2.45"/><circle cx="163.0" cy="143.8" r="2.45"/><circle cx="173.2" cy="148.2" r="2.45"/><circle cx="183.2" cy="150.4" r="2.45"/><circle cx="193.1" cy="152.4" r="2.45"/><circle cx="203.1" cy="153.4" r="2.45"/><circle cx="213.0" cy="154.0" r="2.45"/><circle cx="223.1" cy="155.0" r="2.45"/><circle cx="233.2" cy="155.0" r="2.45"/><circle cx="243.2" cy="155.0" r="2.45"/><circle cx="253.3" cy="155.0" r="2.45"/><circle cx="263.3" cy="155.0" r="2.45"/><circle cx="273.4" cy="155.0" r="2.45"/><circle cx="283.5" cy="155.0" r="2.45"/><circle cx="293.5" cy="155.0" r="2.45"/><circle cx="303.6" cy="155.0" r="2.45"/><circle cx="313.6" cy="155.0" r="2.45"/><circle cx="323.7" cy="155.0" r="2.45"/><circle cx="333.8" cy="155.0" r="2.45"/><circle cx="343.8" cy="155.0" r="2.45"/><circle cx="353.9" cy="155.0" r="2.45"/><circle cx="363.9" cy="155.0" r="2.45"/><circle cx="374.0" cy="155.0" r="2.45"/><circle cx="384.1" cy="155.0" r="2.45"/><circle cx="394.1" cy="155.0" r="2.45"/><circle cx="404.2" cy="155.0" r="2.45"/><circle cx="414.2" cy="155.0" r="2.45"/><circle cx="424.3" cy="155.0" r="2.45"/></g>
<g fill="#0000aa"><circle cx="69.5" cy="156.4" r="2.45"/><circle cx="79.6" cy="157.2" r="2.45"/><circle cx="90.0" cy="159.0" r="2.45"/><circle cx="99.9" cy="160.6" r="2.45"/><circle cx="110.0" cy="164.3" r="2.45"/><circle cx="120.0" cy="170.5" r="2.45"/><circle cx="130.0" cy="178.9" r="2.45"/><circle cx="139.9" cy="188.9" r="2.45"/><circle cx="149.8" cy="186.5" r="2.45"/><circle cx="159.7" cy="166.9" r="2.45"/><circle cx="170.1" cy="148.9" r="2.45"/><circle cx="180.0" cy="140.7" r="2.45"/><circle cx="190.1" cy="140.0" r="2.45"/><circle cx="200.0" cy="141.8" r="2.45"/><circle cx="210.0" cy="142.0" r="2.45"/><circle cx="220.1" cy="143.9" r="2.45"/><circle cx="230.2" cy="145.6" r="2.45"/><circle cx="240.3" cy="146.8" r="2.45"/><circle cx="250.4" cy="148.1" r="2.45"/><circle cx="260.4" cy="149.4" r="2.45"/><circle cx="270.4" cy="150.3" r="2.45"/><circle cx="280.5" cy="151.1" r="2.45"/><circle cx="290.5" cy="151.8" r="2.45"/><circle cx="300.5" cy="152.4" r="2.45"/><circle cx="310.5" cy="152.9" r="2.45"/><circle cx="320.6" cy="153.3" r="2.45"/><circle cx="330.6" cy="153.5" r="2.45"/><circle cx="340.6" cy="153.8" r="2.45"/><circle cx="350.7" cy="153.9" r="2.45"/><circle cx="360.7" cy="154.0" r="2.45"/><circle cx="370.7" cy="154.2" r="2.45"/><circle cx="380.8" cy="154.2" r="2.45"/><circle cx="390.8" cy="154.3" r="2.45"/><circle cx="400.8" cy="154.3" r="2.45"/><circle cx="410.8" cy="154.4" r="2.45"/><circle cx="420.9" cy="154.4" r="2.45"/></g>
<g fill="#00a500"><circle cx="59.5" cy="156.2" r="2.45"/><circle cx="80.5" cy="157.0" r="2.45"/><circle cx="103.3" cy="158.4" r="2.45"/><circle cx="125.5" cy="160.7" r="2.45"/><circle cx="148.0" cy="164.1" r="2.45"/><circle cx="170.3" cy="168.7" r="2.45"/><circle cx="192.5" cy="169.6" r="2.45"/><circle cx="214.9" cy="166.0" r="2.45"/><circle cx="237.0" cy="159.8" r="2.45"/><circle cx="259.6" cy="155.6" r="2.45"/><circle cx="281.8" cy="153.4" r="2.45"/><circle cx="304.0" cy="152.6" r="2.45"/><circle cx="326.3" cy="152.2" r="2.45"/><circle cx="349.0" cy="152.0" r="2.45"/><circle cx="371.2" cy="151.3" r="2.45"/><circle cx="392.8" cy="151.5" r="2.45"/><circle cx="415.2" cy="151.5" r="2.45"/></g>
<path d="M54.5,241.6 V11.5 H427.2 V241.6 Z" fill="none" stroke="#000" stroke-width="1.5" stroke-linejoin="miter"/>
<path d="M85.56,241.6 v-3.3 M116.62,241.6 v-7.0 M147.68,241.6 v-3.3 M178.73,241.6 v-7.0 M209.79,241.6 v-3.3 M240.85,241.6 v-7.0 M271.91,241.6 v-3.3 M302.97,241.6 v-7.0 M334.02,241.6 v-3.3 M365.08,241.6 v-7.0 M396.14,241.6 v-3.3 M54.5,212.84 h6.8 M54.5,184.07 h3.2 M54.5,155.31 h6.8 M54.5,126.55 h3.2 M54.5,97.79 h6.8 M54.5,69.02 h3.2 M54.5,40.26 h6.8" fill="none" stroke="#000" stroke-width="1.6"/>
<g font-size="17.5px">
<text transform="translate(51.8,46.4) scale(1,1.06)" text-anchor="end">0.2</text>
<text transform="translate(51.8,103.9) scale(1,1.06)" text-anchor="end">0.1</text>
<text transform="translate(51.8,161.4) scale(1,1.06)" text-anchor="end">0</text>
<text transform="translate(51.8,218.9) scale(1,1.06)" text-anchor="end"><tspan font-size="20px" dy="1.3">−</tspan><tspan dx="0.3" dy="-1.3">0.1</tspan></text>
<text transform="translate(54.7,260.1) scale(1,1.06)" text-anchor="middle"><tspan font-size="20px" dy="1.3">−</tspan><tspan dx="0.3" dy="-1.3">5</tspan></text>
<text transform="translate(116.6,260.1) scale(1,1.06)" text-anchor="middle">0</text>
<text transform="translate(178.7,260.1) scale(1,1.06)" text-anchor="middle">5</text>
<text transform="translate(240.8,260.1) scale(1,1.06)" text-anchor="middle">10</text>
<text transform="translate(303.0,260.1) scale(1,1.06)" text-anchor="middle">15</text>
<text transform="translate(365.1,260.1) scale(1,1.06)" text-anchor="middle">20</text>
<text transform="translate(427.8,260.1) scale(1,1.06)" text-anchor="middle">25</text>
</g>
<g transform="translate(192.9,275.3) rotate(0)"><text transform="translate(-0.73,0.00)" font-size="16.6px">(</text><text transform="translate(4.87,0.00) scale(1.15,1)" font-size="16.5px" font-style="italic">ω</text><text transform="translate(17.47,1.20) scale(1.1,1)" font-size="17px">−</text><text transform="translate(28.37,0.00) scale(1.15,1)" font-size="16.5px" font-style="italic">ω</text><text transform="translate(41.24,2.00)" font-size="12.200000000000001px">0</text><text transform="translate(47.57,0.00)" font-size="16.6px">)</text><text transform="translate(52.90,0.00) scale(1.15,1)" font-size="16.6px">/</text><text transform="translate(58.71,0.00)" font-size="17px">Γ</text></g>
<g transform="translate(15.0,195.8) rotate(-90)"><text transform="translate(-0.49,0.00)" font-size="17px">F</text><text transform="translate(9.89,-5.80)" font-size="11.5px">2</text><text transform="translate(15.09,0.00)" font-size="17px">Φ</text><text transform="translate(26.46,2.10)" font-size="11.8px">F</text><text transform="translate(34.55,0.00)" font-size="17px">(</text><text transform="translate(41.03,0.00)" font-size="17.2px" font-style="italic">ω</text><text transform="translate(51.85,0.00)" font-size="17px">)</text><text transform="translate(58.01,0.00)" font-size="17px">Γ</text><text transform="translate(67.57,0.00) scale(1.15,1)" font-size="16.5px" font-style="italic">ω</text><text transform="translate(79.84,2.60)" font-size="12.200000000000001px">0</text><text transform="translate(86.89,-5.80)" font-size="11.5px">2</text><text transform="translate(93.20,0.00) scale(1.15,1)" font-size="17px">/</text><text transform="translate(99.18,0.00)" font-size="17px">k</text><text transform="translate(108.96,2.60)" font-size="11.8px">B</text><text transform="translate(117.09,0.00)" font-size="17px">T</text></g>
<g stroke="#000" stroke-width="1.8" fill="none">
<path d="M166.8,45 L141,75"/><path d="M217.2,102.8 L190.6,132.2"/><path d="M215.5,172.1 L266.3,190"/>
</g>
<g font-size="17.5px" text-anchor="middle">
<text x="173.0" y="46.2">1</text><text x="222.3" y="103.8">2</text><text x="271.5" y="198.2">3</text>
</g>
<rect x="272.1" y="16.5" width="142.59999999999997" height="92.3" fill="#fff"/>
<clipPath id="ic"><rect x="272.1" y="16.5" width="146.59999999999997" height="92.3"/></clipPath>
<g clip-path="url(#ic)">
<path d="M272.10,102.04 L275.17,101.32 L279.03,99.89 L282.88,97.32 L286.74,92.14 L290.59,80.12 L294.44,50.73 L296.40,29.42 L298.30,19.88 L300.20,32.12 L302.16,53.55 L306.01,81.36 L309.87,92.65 L313.72,97.56 L317.57,100.02 L321.43,101.40 L325.29,102.24 L329.14,102.79 L333.00,103.17 L336.85,103.44 L340.71,103.64 L344.56,103.79 L348.42,103.91 L352.27,104.01 L356.12,104.08 L359.98,104.15 L363.84,104.20 L367.69,104.24 L371.55,104.28 L375.40,104.31 L379.25,104.34 L383.11,104.36 L386.97,104.38 L390.82,104.40 L394.68,104.41 L398.53,104.43 L402.38,104.44 L406.24,104.45 L410.10,104.46 L413.95,104.47 L414.70,104.47" fill="none" stroke="#ff0000" stroke-width="1.45" stroke-linejoin="round"/>
<g fill="#ff0000"><circle cx="275.2" cy="101.3" r="1.75"/><circle cx="279.0" cy="99.9" r="1.75"/><circle cx="282.9" cy="97.3" r="1.75"/><circle cx="286.7" cy="92.1" r="1.75"/><circle cx="290.6" cy="80.1" r="1.75"/><circle cx="294.4" cy="50.7" r="1.75"/><circle cx="298.3" cy="19.9" r="1.75"/><circle cx="302.2" cy="53.6" r="1.75"/><circle cx="306.0" cy="81.4" r="1.75"/><circle cx="309.9" cy="92.6" r="1.75"/><circle cx="313.7" cy="97.6" r="1.75"/><circle cx="317.6" cy="100.0" r="1.75"/><circle cx="321.4" cy="101.4" r="1.75"/><circle cx="325.3" cy="102.2" r="1.75"/><circle cx="329.1" cy="102.8" r="1.75"/><circle cx="333.0" cy="103.2" r="1.75"/><circle cx="336.9" cy="103.4" r="1.75"/><circle cx="340.7" cy="103.6" r="1.75"/><circle cx="344.6" cy="103.8" r="1.75"/><circle cx="348.4" cy="103.9" r="1.75"/><circle cx="352.3" cy="104.0" r="1.75"/><circle cx="356.1" cy="104.1" r="1.75"/><circle cx="360.0" cy="104.1" r="1.75"/><circle cx="363.8" cy="104.2" r="1.75"/><circle cx="367.7" cy="104.2" r="1.75"/><circle cx="371.5" cy="104.3" r="1.75"/><circle cx="375.4" cy="104.3" r="1.75"/><circle cx="379.3" cy="104.3" r="1.75"/><circle cx="383.1" cy="104.4" r="1.75"/><circle cx="387.0" cy="104.4" r="1.75"/><circle cx="390.8" cy="104.4" r="1.75"/><circle cx="394.7" cy="104.4" r="1.75"/><circle cx="398.5" cy="104.4" r="1.75"/><circle cx="402.4" cy="104.4" r="1.75"/><circle cx="406.2" cy="104.5" r="1.75"/><circle cx="410.1" cy="104.5" r="1.75"/><circle cx="414.0" cy="104.5" r="1.75"/><circle cx="296.4" cy="29.4" r="1.75"/><circle cx="300.2" cy="32.1" r="1.75"/></g>
<path d="M272.10,103.00 L272.60,102.97 L273.10,102.94 L273.60,102.91 L274.10,102.87 L274.60,102.83 L275.10,102.78 L275.60,102.73 L276.10,102.68 L276.60,102.62 L277.10,102.55 L277.60,102.49 L278.10,102.43 L278.60,102.36 L279.10,102.30 L279.60,102.24 L280.10,102.18 L280.60,102.11 L281.10,102.03 L281.60,101.95 L282.10,101.86 L282.60,101.75 L283.10,101.63 L283.60,101.50 L284.10,101.36 L284.60,101.21 L285.10,101.05 L285.60,100.90 L286.10,100.74 L286.60,100.58 L287.10,100.41 L287.60,100.24 L288.10,100.06 L288.60,99.87 L289.10,99.67 L289.60,99.46 L290.10,99.24 L290.60,99.01 L291.10,98.77 L291.60,98.52 L292.10,98.25 L292.60,97.96 L293.10,97.66 L293.60,97.33 L294.10,96.98 L294.60,96.60 L295.10,96.18 L295.60,95.74 L296.10,95.26 L296.60,94.76 L297.10,94.22 L297.60,93.65 L298.10,93.01 L298.60,92.30 L299.10,91.55 L299.60,90.75 L300.10,89.92 L300.60,89.07 L301.10,88.20 L301.60,87.29 L302.10,86.32 L302.60,85.31 L303.10,84.26 L303.60,83.20 L304.10,82.15 L304.60,81.11 L305.10,80.10 L305.60,79.05 L306.10,77.99 L306.60,76.92 L307.10,75.88 L307.60,74.89 L308.10,73.97 L308.60,73.15 L309.10,72.41 L309.60,71.70 L310.10,71.06 L310.60,70.53 L311.10,70.13 L311.60,69.78 L312.10,69.51 L312.60,69.40 L313.10,69.46 L313.60,69.62 L314.10,69.82 L314.60,70.04 L315.10,70.34 L315.60,70.71 L316.10,71.14 L316.60,71.60 L317.10,72.11 L317.60,72.73 L318.10,73.44 L318.60,74.21 L319.10,75.02 L319.60,75.83 L320.10,76.60 L320.60,77.37 L321.10,78.17 L321.60,78.97 L322.10,79.76 L322.60,80.50 L323.10,81.16 L323.60,81.74 L324.10,82.27 L324.60,82.77 L325.10,83.25 L325.60,83.69 L326.10,84.13 L326.60,84.55 L327.10,84.96 L327.60,85.37 L328.10,85.78 L328.60,86.19 L329.10,86.59 L329.60,86.98 L330.10,87.36 L330.60,87.74 L331.10,88.11 L331.60,88.47 L332.10,88.83 L332.60,89.17 L333.10,89.51 L333.60,89.85 L334.10,90.18 L334.60,90.52 L335.10,90.86 L335.60,91.20 L336.10,91.55 L336.60,91.92 L337.10,92.28 L337.60,92.64 L338.10,93.00 L338.60,93.34 L339.10,93.66 L339.60,93.98 L340.10,94.28 L340.60,94.58 L341.10,94.87 L341.60,95.15 L342.10,95.43 L342.60,95.69 L343.10,95.95 L343.60,96.20 L344.10,96.44 L344.60,96.67 L345.10,96.89 L345.60,97.11 L346.10,97.33 L346.60,97.54 L347.10,97.74 L347.60,97.94 L348.10,98.14 L348.60,98.33 L349.10,98.52 L349.60,98.70 L350.10,98.88 L350.60,99.05 L351.10,99.21 L351.60,99.37 L352.10,99.52 L352.60,99.67 L353.10,99.82 L353.60,99.96 L354.10,100.09 L354.60,100.22 L355.10,100.35 L355.60,100.47 L356.10,100.60 L356.60,100.71 L357.10,100.83 L357.60,100.94 L358.10,101.04 L358.60,101.13 L359.10,101.22 L359.60,101.30 L360.10,101.37 L360.60,101.44 L361.10,101.51 L361.60,101.58 L362.10,101.64 L362.60,101.71 L363.10,101.79 L363.60,101.86 L364.10,101.93 L364.60,102.00 L365.10,102.07 L365.60,102.13 L366.10,102.19 L366.60,102.24 L367.10,102.29 L367.60,102.34 L368.10,102.39 L368.60,102.44 L369.10,102.48 L369.60,102.52 L370.10,102.56 L370.60,102.59 L371.10,102.63 L371.60,102.66 L372.10,102.69 L372.60,102.72 L373.10,102.75 L373.60,102.78 L374.10,102.81 L374.60,102.84 L375.10,102.87 L375.60,102.89 L376.10,102.92 L376.60,102.94 L377.10,102.97 L377.60,102.99 L378.10,103.01 L378.60,103.04 L379.10,103.06 L379.60,103.08 L380.10,103.10 L380.60,103.13 L381.10,103.15 L381.60,103.17 L382.10,103.19 L382.60,103.22 L383.10,103.24 L383.60,103.26 L384.10,103.28 L384.60,103.30 L385.10,103.32 L385.60,103.34 L386.10,103.36 L386.60,103.38 L387.10,103.40 L387.60,103.42 L388.10,103.44 L388.60,103.45 L389.10,103.47 L389.60,103.49 L390.10,103.50 L390.60,103.52 L391.10,103.53 L391.60,103.55 L392.10,103.56 L392.60,103.58 L393.10,103.59 L393.60,103.60 L394.10,103.62 L394.60,103.63 L395.10,103.64 L395.60,103.65 L396.10,103.66 L396.60,103.68 L397.10,103.69 L397.60,103.70 L398.10,103.71 L398.60,103.72 L399.10,103.73 L399.60,103.74 L400.10,103.75 L400.60,103.76 L401.10,103.77 L401.60,103.78 L402.10,103.79 L402.60,103.80 L403.10,103.81 L403.60,103.82 L404.10,103.83 L404.60,103.84 L405.10,103.85 L405.60,103.86 L406.10,103.87 L406.60,103.87 L407.10,103.88 L407.60,103.89 L408.10,103.90 L408.60,103.91 L409.10,103.92 L409.60,103.92 L410.10,103.93 L410.60,103.94 L411.10,103.95 L411.60,103.95 L412.10,103.96 L412.60,103.97 L413.10,103.97 L413.60,103.98 L414.10,103.99 L414.60,103.99 L415.10,104.00 L415.20,104.00" fill="none" stroke="#0000aa" stroke-width="1.45" stroke-linejoin="round"/>
<g fill="#0000aa"><circle cx="274.2" cy="102.9" r="1.75"/><circle cx="278.0" cy="102.4" r="1.75"/><circle cx="281.9" cy="101.9" r="1.75"/><circle cx="285.7" cy="100.9" r="1.75"/><circle cx="289.5" cy="99.5" r="1.75"/><circle cx="293.4" cy="97.5" r="1.75"/><circle cx="297.2" cy="94.1" r="1.75"/><circle cx="301.1" cy="88.2" r="1.75"/><circle cx="304.9" cy="80.5" r="1.75"/><circle cx="308.8" cy="72.9" r="1.75"/><circle cx="312.6" cy="69.4" r="1.75"/><circle cx="316.4" cy="71.5" r="1.75"/><circle cx="320.3" cy="76.9" r="1.75"/><circle cx="324.1" cy="82.3" r="1.75"/><circle cx="328.0" cy="85.7" r="1.75"/><circle cx="331.8" cy="88.6" r="1.75"/><circle cx="335.7" cy="91.2" r="1.75"/><circle cx="339.5" cy="93.9" r="1.75"/><circle cx="343.3" cy="96.1" r="1.75"/><circle cx="347.2" cy="97.8" r="1.75"/><circle cx="351.0" cy="99.2" r="1.75"/><circle cx="354.9" cy="100.3" r="1.75"/><circle cx="358.7" cy="101.2" r="1.75"/><circle cx="362.5" cy="101.7" r="1.75"/><circle cx="366.4" cy="102.2" r="1.75"/><circle cx="370.2" cy="102.6" r="1.75"/><circle cx="374.1" cy="102.8" r="1.75"/><circle cx="377.9" cy="103.0" r="1.75"/><circle cx="381.8" cy="103.2" r="1.75"/><circle cx="385.6" cy="103.3" r="1.75"/><circle cx="389.4" cy="103.5" r="1.75"/><circle cx="393.3" cy="103.6" r="1.75"/><circle cx="397.1" cy="103.7" r="1.75"/><circle cx="401.0" cy="103.8" r="1.75"/><circle cx="404.8" cy="103.8" r="1.75"/><circle cx="408.7" cy="103.9" r="1.75"/><circle cx="412.5" cy="104.0" r="1.75"/><circle cx="416.3" cy="104.0" r="1.75"/></g>
<path d="M272.10,104.20 L272.60,104.17 L273.10,104.13 L273.60,104.09 L274.10,104.06 L274.60,104.02 L275.10,103.99 L275.60,103.95 L276.10,103.92 L276.60,103.88 L277.10,103.84 L277.60,103.81 L278.10,103.77 L278.60,103.73 L279.10,103.70 L279.60,103.66 L280.10,103.62 L280.60,103.59 L281.10,103.55 L281.60,103.51 L282.10,103.47 L282.60,103.44 L283.10,103.40 L283.60,103.36 L284.10,103.32 L284.60,103.28 L285.10,103.25 L285.60,103.21 L286.10,103.17 L286.60,103.13 L287.10,103.09 L287.60,103.05 L288.10,103.01 L288.60,102.97 L289.10,102.93 L289.60,102.89 L290.10,102.85 L290.60,102.81 L291.10,102.77 L291.60,102.72 L292.10,102.68 L292.60,102.64 L293.10,102.60 L293.60,102.56 L294.10,102.52 L294.60,102.47 L295.10,102.43 L295.60,102.38 L296.10,102.34 L296.60,102.29 L297.10,102.24 L297.60,102.19 L298.10,102.14 L298.60,102.09 L299.10,102.03 L299.60,101.98 L300.10,101.92 L300.60,101.85 L301.10,101.79 L301.60,101.72 L302.10,101.65 L302.60,101.58 L303.10,101.50 L303.60,101.43 L304.10,101.35 L304.60,101.27 L305.10,101.19 L305.60,101.10 L306.10,101.02 L306.60,100.93 L307.10,100.84 L307.60,100.75 L308.10,100.66 L308.60,100.57 L309.10,100.47 L309.60,100.38 L310.10,100.27 L310.60,100.17 L311.10,100.06 L311.60,99.95 L312.10,99.84 L312.60,99.73 L313.10,99.62 L313.60,99.50 L314.10,99.38 L314.60,99.26 L315.10,99.14 L315.60,99.02 L316.10,98.90 L316.60,98.78 L317.10,98.65 L317.60,98.51 L318.10,98.38 L318.60,98.24 L319.10,98.10 L319.60,97.96 L320.10,97.81 L320.60,97.67 L321.10,97.52 L321.60,97.38 L322.10,97.24 L322.60,97.10 L323.10,96.96 L323.60,96.82 L324.10,96.68 L324.60,96.55 L325.10,96.42 L325.60,96.29 L326.10,96.16 L326.60,96.03 L327.10,95.89 L327.60,95.76 L328.10,95.63 L328.60,95.50 L329.10,95.37 L329.60,95.24 L330.10,95.12 L330.60,95.00 L331.10,94.89 L331.60,94.78 L332.10,94.67 L332.60,94.57 L333.10,94.48 L333.60,94.40 L334.10,94.32 L334.60,94.24 L335.10,94.17 L335.60,94.10 L336.10,94.03 L336.60,93.97 L337.10,93.92 L337.60,93.88 L338.10,93.84 L338.60,93.81 L339.10,93.79 L339.60,93.76 L340.10,93.74 L340.60,93.72 L341.10,93.71 L341.60,93.70 L342.10,93.70 L342.60,93.70 L343.10,93.71 L343.60,93.71 L344.10,93.72 L344.60,93.73 L345.10,93.73 L345.60,93.74 L346.10,93.75 L346.60,93.77 L347.10,93.78 L347.60,93.81 L348.10,93.83 L348.60,93.86 L349.10,93.89 L349.60,93.92 L350.10,93.95 L350.60,93.99 L351.10,94.02 L351.60,94.05 L352.10,94.09 L352.60,94.13 L353.10,94.17 L353.60,94.21 L354.10,94.26 L354.60,94.30 L355.10,94.35 L355.60,94.39 L356.10,94.44 L356.60,94.48 L357.10,94.53 L357.60,94.58 L358.10,94.62 L358.60,94.67 L359.10,94.71 L359.60,94.75 L360.10,94.79 L360.60,94.83 L361.10,94.88 L361.60,94.92 L362.10,94.96 L362.60,95.00 L363.10,95.04 L363.60,95.08 L364.10,95.13 L364.60,95.17 L365.10,95.21 L365.60,95.25 L366.10,95.30 L366.60,95.34 L367.10,95.38 L367.60,95.43 L368.10,95.47 L368.60,95.52 L369.10,95.56 L369.60,95.61 L370.10,95.66 L370.60,95.70 L371.10,95.75 L371.60,95.80 L372.10,95.84 L372.60,95.89 L373.10,95.94 L373.60,95.98 L374.10,96.03 L374.60,96.08 L375.10,96.12 L375.60,96.16 L376.10,96.21 L376.60,96.25 L377.10,96.30 L377.60,96.34 L378.10,96.38 L378.60,96.42 L379.10,96.47 L379.60,96.51 L380.10,96.55 L380.60,96.59 L381.10,96.63 L381.60,96.67 L382.10,96.71 L382.60,96.75 L383.10,96.79 L383.60,96.83 L384.10,96.87 L384.60,96.91 L385.10,96.95 L385.60,96.98 L386.10,97.02 L386.60,97.06 L387.10,97.09 L387.60,97.13 L388.10,97.17 L388.60,97.20 L389.10,97.24 L389.60,97.27 L390.10,97.31 L390.60,97.34 L391.10,97.38 L391.60,97.41 L392.10,97.44 L392.60,97.47 L393.10,97.51 L393.60,97.54 L394.10,97.57 L394.60,97.60 L395.10,97.63 L395.60,97.66 L396.10,97.69 L396.60,97.72 L397.10,97.75 L397.60,97.78 L398.10,97.80 L398.60,97.83 L399.10,97.86 L399.60,97.89 L400.10,97.92 L400.60,97.95 L401.10,97.98 L401.60,98.01 L402.10,98.04 L402.60,98.06 L403.10,98.09 L403.60,98.12 L404.10,98.15 L404.60,98.18 L405.10,98.21 L405.60,98.24 L406.10,98.27 L406.60,98.30 L407.10,98.33 L407.60,98.36 L408.10,98.39 L408.60,98.42 L409.10,98.44 L409.60,98.47 L410.10,98.50 L410.60,98.53 L411.10,98.56 L411.60,98.59 L412.10,98.62 L412.60,98.65 L413.10,98.68 L413.60,98.71 L414.10,98.74 L414.60,98.77 L415.10,98.79 L415.20,98.80" fill="none" stroke="#00a500" stroke-width="1.45" stroke-linejoin="round"/>
<g fill="#00a500"><circle cx="273.6" cy="104.5" r="1.85"/><circle cx="282.2" cy="103.9" r="1.85"/><circle cx="290.8" cy="103.2" r="1.85"/><circle cx="299.3" cy="102.5" r="1.85"/><circle cx="307.9" cy="101.1" r="1.85"/><circle cx="316.5" cy="99.3" r="1.85"/><circle cx="325.1" cy="96.9" r="1.85"/><circle cx="333.6" cy="94.8" r="1.85"/><circle cx="342.2" cy="94.2" r="1.85"/><circle cx="350.8" cy="94.4" r="1.85"/><circle cx="359.3" cy="95.2" r="1.85"/><circle cx="367.9" cy="95.9" r="1.85"/><circle cx="376.5" cy="96.7" r="1.85"/><circle cx="385.1" cy="97.4" r="1.85"/><circle cx="393.6" cy="98.0" r="1.85"/><circle cx="402.2" cy="98.5" r="1.85"/><circle cx="410.8" cy="99.0" r="1.85"/></g>
</g>
<rect x="272.1" y="16.5" width="142.59999999999997" height="92.3" fill="none" stroke="#000" stroke-width="1.5"/>
<path d="M296.00,108.8 v-4.3 M319.80,108.8 v-2.2 M343.60,108.8 v-4.3 M367.40,108.8 v-2.2 M391.20,108.8 v-4.3 M272.1,104.60 h4.4 M272.1,86.90 h2.2 M272.1,69.20 h4.4 M272.1,51.50 h2.2 M272.1,33.80 h4.4" fill="none" stroke="#000" stroke-width="1.4"/>
<g font-size="17.4px">
<text transform="translate(269.7,40.4) scale(1,1.06)" text-anchor="end">0.8</text>
<text transform="translate(269.7,75.8) scale(1,1.06)" text-anchor="end">0.4</text>
<text transform="translate(269.7,111.2) scale(1,1.06)" text-anchor="end">0</text>
<text transform="translate(296.0,127.1) scale(1,1.06)" text-anchor="middle" font-size="17.6px">0</text>
<text transform="translate(343.6,127.1) scale(1,1.06)" text-anchor="middle" font-size="17.6px">10</text>
<text transform="translate(391.2,127.1) scale(1,1.06)" text-anchor="middle" font-size="17.6px">20</text>
</g>
<g transform="translate(298.0,142.65) rotate(0)"><text transform="translate(-0.73,0.00)" font-size="16.6px">(</text><text transform="translate(4.87,0.00) scale(1.15,1)" font-size="16.5px" font-style="italic">ω</text><text transform="translate(17.47,1.20) scale(1.1,1)" font-size="17px">−</text><text transform="translate(28.37,0.00) scale(1.15,1)" font-size="16.5px" font-style="italic">ω</text><text transform="translate(41.24,2.00)" font-size="12.200000000000001px">0</text><text transform="translate(47.57,0.00)" font-size="16.6px">)</text><text transform="translate(52.90,0.00) scale(1.15,1)" font-size="16.6px">/</text><text transform="translate(58.71,0.00)" font-size="17px">Γ</text></g>
<g transform="translate(245.1,126.8) rotate(-90)"><text transform="translate(-0.51,0.00)" font-size="17px">Φ</text><text transform="translate(11.74,2.60)" font-size="12.200000000000001px">0</text><text transform="translate(17.45,0.00)" font-size="17px">(</text><text transform="translate(23.73,0.00)" font-size="17.2px" font-style="italic">ω</text><text transform="translate(34.35,0.00)" font-size="17px">)</text><text transform="translate(40.91,0.00)" font-size="17px">Γ</text><text transform="translate(49.97,0.00) scale(1.15,1)" font-size="16.5px" font-style="italic">ω</text><text transform="translate(62.44,2.60)" font-size="12.200000000000001px">0</text><text transform="translate(69.19,-5.80)" font-size="11.5px">2</text><text transform="translate(75.60,0.00) scale(1.15,1)" font-size="17px">/</text><text transform="translate(80.51,0.00)" font-size="17px" font-style="italic">k</text><text transform="translate(89.49,2.60)" font-size="11.8px" font-style="italic">B</text><text transform="translate(97.89,0.00)" font-size="17px">T</text></g>
<g stroke="#000" stroke-width="1.7" fill="none">
<path d="M320,34.3 L305,43.3"/><path d="M341,68.5 L325.8,78.5"/><path d="M377,82.3 L361.8,91.6"/>
</g>
<g font-size="17px" text-anchor="middle">
<text x="327.6" y="36.6">1</text><text x="348.5" y="73">2</text><text x="385.3" y="85.6">3</text>
</g>
</svg>
</body></html>
